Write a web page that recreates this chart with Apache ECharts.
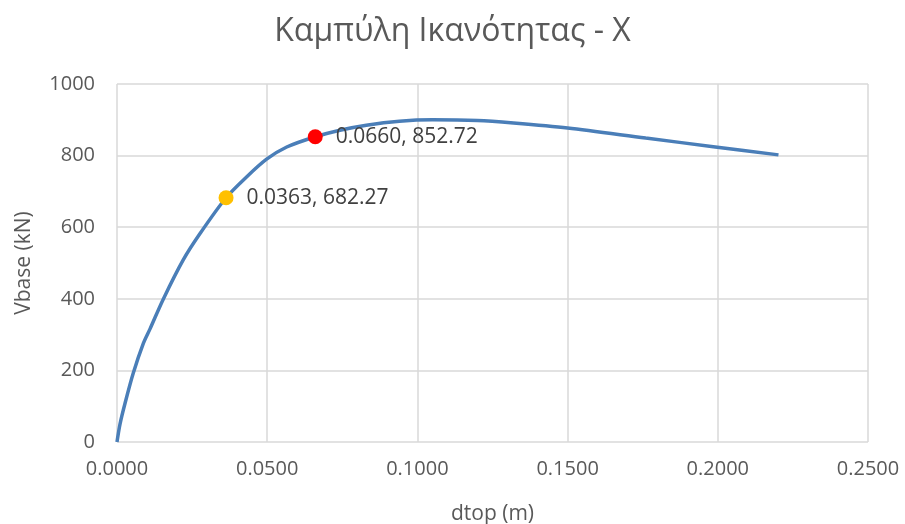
<!DOCTYPE html>
<html style="height: 100%">
<head>
    <meta charset="utf-8">
    <title>Καμπύλη Ικανότητας - X</title>
    <script src="https://cdn.jsdelivr.net/npm/echarts@6/dist/echarts.min.js"></script>
</head>
<body style="margin:0;width:905px;height:524px;background:#fff;">
<div id="container" style="width:905px;height:524px;"></div>
<script>
    // pushover curve
    var dtop = [0, 0.0010, 0.0027, 0.0054, 0.0088, 0.0110, 0.0154, 0.0220, 0.0277, 0.0363,
                0.0432, 0.0498, 0.0565, 0.0660, 0.0742, 0.0830, 0.0940, 0.1050, 0.1200,
                0.1320, 0.1500, 0.1760, 0.1985, 0.2202];
    var vbase = [0, 50, 109, 192, 276, 316, 399, 508, 583, 682.27,
                 741, 790, 824, 852.72, 871, 885, 896, 900, 898,
                 891, 877, 849, 825, 802];
    // highlighted points
    var markX = [0.0363, 0.0660];
    var markY = [682.27, 852.72];
    var markColors = ['#FFC000', '#FF0000'];

    var curve = [];
    for (var i = 0; i < dtop.length; i++) {
        curve.push([dtop[i], vbase[i]]);
    }
    var marks = [];
    for (var j = 0; j < markX.length; j++) {
        marks.push({value: [markX[j], markY[j]], itemStyle: {color: markColors[j], opacity: 1}});
    }

    var font = '"Open Sans", sans-serif';
    var chart = echarts.init(document.getElementById('container'));
    var option = {
        animation: false,
        title: {
            text: 'Καμπύλη Ικανότητας - X',
            left: 'center',
            top: 11,
            textStyle: {fontFamily: font, fontSize: 32, fontWeight: 'normal', color: '#595959'}
        },
        grid: {left: 117, right: 37, top: 84, bottom: 82, outerBoundsMode: 'none'},
        xAxis: {
            type: 'value',
            min: 0,
            max: 0.25,
            interval: 0.05,
            name: 'dtop (m)',
            nameLocation: 'middle',
            nameGap: 62,
            nameTextStyle: {fontFamily: font, fontSize: 21, color: '#595959'},
            axisLine: {show: false},
            axisTick: {show: false},
            axisLabel: {
                margin: 17,
                fontFamily: font, fontSize: 20, color: '#595959',
                formatter: function (v) { return v.toFixed(4); }
            },
            splitLine: {lineStyle: {color: '#d9d9d9', width: 1.5}}
        },
        yAxis: {
            type: 'value',
            min: 0,
            max: 1000,
            interval: 200,
            name: 'Vbase (kN)',
            nameLocation: 'middle',
            nameGap: 82,
            nameTextStyle: {fontFamily: font, fontSize: 21, color: '#595959'},
            axisLine: {show: false},
            axisTick: {show: false},
            axisLabel: {
                margin: 22, fontFamily: font, fontSize: 20, color: '#595959',
                formatter: function (v) { return String(v); }
            },
            splitLine: {lineStyle: {color: '#d9d9d9', width: 1.5}}
        },
        series: [
            {
                type: 'line',
                data: curve,
                smooth: 0.3,
                showSymbol: false,
                lineStyle: {color: '#4a7eb8', width: 3.5}
            },
            {
                type: 'scatter',
                data: marks,
                symbolSize: 15,
                z: 5,
                label: {
                    show: true,
                    position: 'right',
                    distance: 13,
                    fontFamily: font, fontSize: 21, color: '#404040',
                    formatter: function (p) {
                        return p.value[0].toFixed(4) + ', ' + p.value[1].toFixed(2);
                    }
                }
            }
        ]
    };
    chart.setOption(option);
</script>
</body>
</html>
